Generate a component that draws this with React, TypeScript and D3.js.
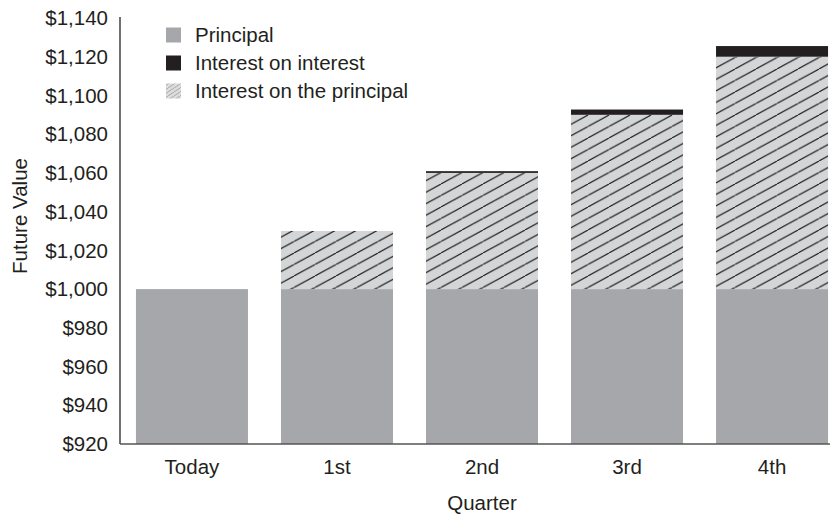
import React from "react";
import * as d3 from "d3";

const categories = ["Today", "1st", "2nd", "3rd", "4th"];
const principal = [1000, 1000, 1000, 1000, 1000];
const interestOnPrincipal = [0, 30, 60, 90, 120];
const interestOnInterest = [0, 0, 0.9, 2.73, 5.51];
const yTicks = [920, 940, 960, 980, 1000, 1020, 1040, 1060, 1080, 1100, 1120, 1140];
const legendItems = ["Principal", "Interest on interest", "Interest on the principal"];

const W = 830;
const H = 515;
const FONT = "'Liberation Sans', Arial, Helvetica, sans-serif";
const FS = 20.5;
const C_PRINCIPAL = "#a6a7ab";
const C_HATCH_BG = "#d4d5d7";
const C_IOI = "#231f20";

export default function App() {
  const y = d3.scaleLinear().domain([920, 1140]).range([444, 18]);
  const x = d3
    .scaleBand<string>()
    .domain(categories)
    .range([120, 844])
    .paddingInner(0.2276)
    .paddingOuter(0.11);
  const fmt = (v: number) => "$" + d3.format(",")(v);
  const bw = x.bandwidth();

  return (
    <svg
      width={W}
      height={H}
      style={{ position: "absolute", left: 0, top: 0, background: "#fff" }}
      fontFamily={FONT}
    >
      <defs>
        <pattern id="hatch" patternUnits="userSpaceOnUse" width={21} height={11.5}>
          <rect width={21} height={11.5} fill={C_HATCH_BG} />
          <line x1={0} y1={11.5} x2={21} y2={0} stroke="#222" strokeWidth={1.2} />
          <line x1={-21} y1={11.5} x2={0} y2={0} stroke="#222" strokeWidth={1.2} />
          <line x1={21} y1={11.5} x2={42} y2={0} stroke="#222" strokeWidth={1.2} />
        </pattern>
        <pattern id="hatchSmall" patternUnits="userSpaceOnUse" width={6} height={4}>
          <rect width={6} height={4} fill="#dcdcdc" />
          <line x1={0} y1={4} x2={6} y2={0} stroke="#9a9a9a" strokeWidth={0.8} />
        </pattern>
      </defs>

      {categories.map((c, i) => {
        const x0 = x(c)!;
        const p = principal[i];
        const ip = interestOnPrincipal[i];
        const ii = interestOnInterest[i];
        return (
          <g key={c}>
            <rect x={x0} y={y(p)} width={bw} height={y(920) - y(p)} fill={C_PRINCIPAL} />
            {ip > 0 && (
              <rect x={x0} y={y(p + ip)} width={bw} height={y(p) - y(p + ip)} fill="url(#hatch)" />
            )}
            {ii > 0 && (
              <rect
                x={x0}
                y={y(p + ip + ii)}
                width={bw}
                height={y(p + ip) - y(p + ip + ii)}
                fill={C_IOI}
              />
            )}
          </g>
        );
      })}

      {/* axes */}
      <line x1={120} y1={17} x2={120} y2={444} stroke="#111" strokeWidth={1.2} />
      <line x1={120} y1={444} x2={830} y2={444} stroke="#555" strokeWidth={1.5} />

      {yTicks.map((t) => (
        <text
          key={t}
          x={108}
          y={y(t)}
          dy="0.35em"
          textAnchor="end"
          fontSize={FS}
          fill="#231f20"
        >
          {fmt(t)}
        </text>
      ))}

      {categories.map((c) => (
        <text
          key={c}
          x={x(c)! + bw / 2}
          y={467}
          dy="0.35em"
          textAnchor="middle"
          fontSize={FS}
          fill="#231f20"
        >
          {c}
        </text>
      ))}

      <text x={482} y={503} dy="0.35em" textAnchor="middle" fontSize={FS} fill="#231f20">
        Quarter
      </text>
      <text
        transform={`translate(20,216) rotate(-90)`}
        dy="0.35em"
        textAnchor="middle"
        fontSize={FS}
        fill="#231f20"
      >
        Future Value
      </text>

      {/* legend */}
      {legendItems.map((l, i) => {
        const cy = 35 + i * 28;
        const fill = i === 0 ? C_PRINCIPAL : i === 1 ? C_IOI : "url(#hatchSmall)";
        return (
          <g key={l}>
            <rect x={166} y={cy - 7.5} width={15} height={15} fill={fill} />
            <text x={195} y={cy} dy="0.35em" fontSize={FS} fill="#231f20">
              {l}
            </text>
          </g>
        );
      })}
    </svg>
  );
}
